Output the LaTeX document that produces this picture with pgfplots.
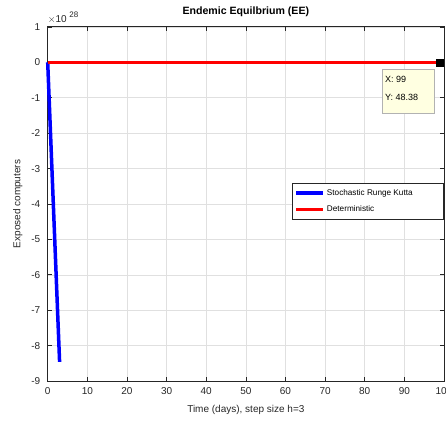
\documentclass[border=0pt]{standalone}
\usepackage{pgfplots}
\pgfplotsset{compat=1.18}
\usepackage{fontspec}
\setmainfont{Liberation Sans}
\definecolor{tipfill}{RGB}{255,255,225}
\definecolor{axgray}{RGB}{38,38,38}
\begin{document}
\begin{tikzpicture}
\begin{axis}[
  name=ax,
  scale only axis, width=396.3pt, height=354pt,
  xmin=0, xmax=100, ymin=-9e28, ymax=1e28,
  xtick={0,10,20,30,40,50,60,70,80,90,100},
  ytick={-9e28,-8e28,-7e28,-6e28,-5e28,-4e28,-3e28,-2e28,-1e28,0,1e28},
  scaled y ticks=base 10:-28,
  ytick scale label code/.code={},
  /pgf/number format/assume math mode=true,
  grid=major,
  major grid style={black!12, line width=0.6pt},
  axis line style={axgray, line width=1pt},
  tick style={axgray, line width=0.7pt},
  major tick length=4pt,
  tick align=inside,
  ticklabel style={font=\fontsize{10}{12}\selectfont, text=axgray},
  yticklabel style={xshift=-4pt},
  xticklabel style={yshift=-3pt},
  title={\textbf{Endemic Equilbrium (EE)}},
  title style={font=\fontsize{10.6}{12}\selectfont, yshift=1pt},
  xlabel={Time (days), step size h=3},
  ylabel={Exposed computers},
  label style={font=\fontsize{10}{12}\selectfont, text=axgray},
  xlabel style={yshift=-4pt},
  ylabel style={yshift=2pt},
  legend style={at={(1,0.559)}, anchor=north east, font=\fontsize{8.2}{9}\selectfont,
    draw=axgray, line width=0.7pt, row sep=5pt, inner xsep=2pt, inner ysep=4pt},
  legend cell align=left,
  legend image code/.code={\draw[line width=3.5pt] (0cm,0cm) -- (0.95cm,0cm);},
  clip=false,
]
\addplot[blue, line width=3.5pt] coordinates {(0,0) (3,-8.46e28)};
\addlegendentry{Stochastic Runge Kutta\rule{27pt}{0pt}}
\addplot[red, line width=3.5pt] coordinates {(0,50) (99,48.38)};
\addlegendentry{Deterministic}
\addplot[only marks, mark=square*, mark size=3.5pt, black, forget plot] coordinates {(99,48.38)};
\draw[black!30, fill=tipfill, line width=0.6pt] (rel axis cs:0.8436,0.881) rectangle (rel axis cs:0.975,0.757);
\node[anchor=west, font=\fontsize{9}{11}\selectfont, inner sep=0pt] at (rel axis cs:0.851,0.853) {X: 99};
\node[anchor=west, font=\fontsize{9}{11}\selectfont, inner sep=0pt] at (rel axis cs:0.851,0.802) {Y: 48.38};
\node[anchor=south west, font=\fontsize{10}{12}\selectfont, text=axgray, inner sep=0pt] at ([yshift=3pt]rel axis cs:0,1) {$\times$10\raisebox{5pt}{\fontsize{8}{9}\selectfont\,\,28}};
\end{axis}
\pgfresetboundingbox
\path[use as bounding box] ([xshift=-47.7pt,yshift=-43pt]ax.south west) rectangle ([xshift=2pt,yshift=27pt]ax.north east);
\end{tikzpicture}
\end{document}
